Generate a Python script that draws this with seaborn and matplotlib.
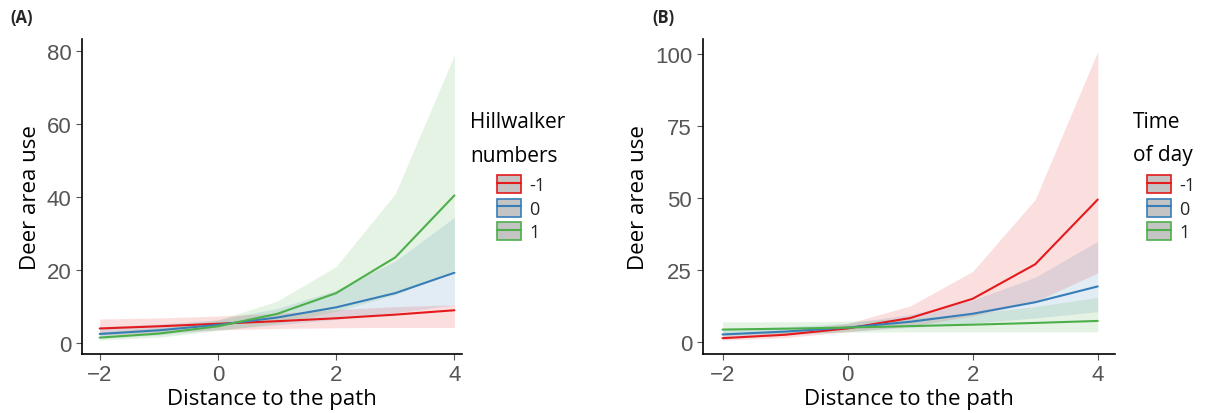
import numpy as np
import pandas as pd
import matplotlib
matplotlib.use("Agg")
import matplotlib.pyplot as plt
import seaborn as sns
from matplotlib.patches import Patch
from matplotlib.lines import Line2D

sns.set_theme(style="ticks")
plt.rcParams["font.family"] = ["Open Sans", "DejaVu Sans"]

x = [-2, -1, 0, 1, 2, 3, 4]
levels = ["-1", "0", "1"]
colors = ["#E41A1C", "#377EB8", "#4DAF4A"]

# panel A: hillwalker numbers
a_fit = {
    "-1": [4.0, 4.6, 5.3, 6.0, 6.8, 7.8, 9.0],
    "0": [2.5, 3.5, 5.0, 7.0, 9.8, 13.7, 19.3],
    "1": [1.5, 2.6, 4.6, 8.0, 13.7, 23.5, 40.5],
}
a_low = {
    "-1": [2.2, 2.9, 3.6, 4.0, 4.2, 4.3, 4.3],
    "0": [1.3, 2.2, 3.7, 5.0, 6.5, 8.3, 10.5],
    "1": [0.8, 1.6, 3.4, 5.4, 8.7, 13.3, 20.0],
}
a_high = {
    "-1": [6.6, 6.9, 7.4, 8.2, 9.2, 10.0, 10.5],
    "0": [4.5, 5.2, 6.4, 9.5, 14.5, 22.5, 34.5],
    "1": [3.0, 4.2, 6.3, 11.5, 21.0, 41.0, 79.0],
}

# panel B: time of day
b_fit = {
    "-1": [1.3, 2.5, 4.7, 8.3, 15.0, 27.0, 49.5],
    "0": [2.6, 3.6, 5.0, 7.0, 9.8, 13.8, 19.3],
    "1": [4.3, 4.6, 5.0, 5.5, 6.0, 6.6, 7.3],
}
b_low = {
    "-1": [0.6, 1.5, 3.5, 5.5, 9.0, 14.0, 24.0],
    "0": [1.3, 2.3, 3.7, 5.0, 6.5, 8.3, 10.5],
    "1": [2.5, 3.0, 3.4, 3.5, 3.5, 3.5, 3.5],
}
b_high = {
    "-1": [2.8, 4.0, 6.4, 12.5, 24.5, 49.5, 101.0],
    "0": [4.6, 5.3, 6.5, 9.5, 14.5, 22.5, 35.0],
    "1": [7.0, 7.0, 7.2, 8.2, 9.8, 12.3, 15.5],
}


def long_df(fit):
    rows = []
    for lv in levels:
        for xi, yi in zip(x, fit[lv]):
            rows.append({"x": xi, "y": yi, "group": lv})
    return pd.DataFrame(rows)


fig = plt.figure(figsize=(12.05, 4.14), dpi=100)
ax1 = fig.add_axes([0.068, 0.1425, 0.315, 0.76])
ax2 = fig.add_axes([0.583, 0.1425, 0.342, 0.76])

panels = [
    (ax1, a_fit, a_low, a_high, [0, 20, 40, 60, 80], (-2.30, 4.12), (-3.0, 83.3),
     ["Hillwalker", "numbers"], 470, 497, "(A)", 10),
    (ax2, b_fit, b_low, b_high, [0, 25, 50, 75, 100], (-2.32, 4.27), (-4.2, 105.2),
     ["Time", "of day"], 1133, 1147, "(B)", 652),
]

W, H = 1205, 414
for ax, fit, low, high, yt, xl, yl, ltitle, lx, hx, letter, letx in panels:
    for lv, c in zip(levels, colors):
        ax.fill_between(x, low[lv], high[lv], color=c, alpha=0.14, lw=0)
    sns.lineplot(data=long_df(fit), x="x", y="y", hue="group", palette=colors,
                 hue_order=levels, ax=ax, legend=False, linewidth=1.5)
    ax.set_xlim(*xl)
    ax.set_ylim(*yl)
    ax.set_xticks([-2, 0, 2, 4])
    ax.set_yticks(yt)
    ax.tick_params(colors="#555555", labelsize=16, length=4, width=0.8)
    for lab in ax.get_xticklabels() + ax.get_yticklabels():
        lab.set_fontfamily("Liberation Sans")
    for s in ["left", "bottom"]:
        ax.spines[s].set_color("black")
        ax.spines[s].set_linewidth(1.2)
    sns.despine(ax=ax)
    ax.set_xlabel("Distance to the path", fontsize=16, color="black", labelpad=2)
    ax.set_ylabel("Deer area use", fontsize=16, color="black", labelpad=4)

    # legend title drawn as two lines, entries indented below it
    fig.text(lx / W, 1 - 122 / H, ltitle[0], fontsize=15, color="black", va="center")
    fig.text(lx / W, 1 - 156 / H, ltitle[1], fontsize=15, color="black", va="center")
    handles = [(Patch(facecolor="#c4c4c4", edgecolor=c, linewidth=1.2),
                Line2D([], [], color=c, linewidth=1.5)) for c in colors]
    fig.legend(handles, levels, loc="upper left",
               bbox_to_anchor=(hx / W, 1 - 176 / H), frameon=False, fontsize=13,
               handlelength=1.35, handleheight=1.15, borderpad=0,
               labelspacing=0.25, handletextpad=0.45, borderaxespad=0)
    fig.text(letx / W, 1 - 18 / H, letter, fontsize=12, fontweight="bold", va="center")

fig.savefig("out.png", dpi=100)
